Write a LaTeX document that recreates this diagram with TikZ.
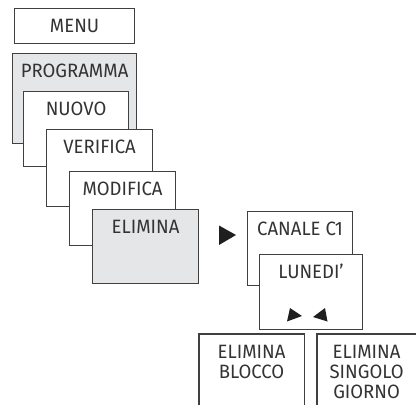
\documentclass[tikz,border=0pt]{standalone}
\usepackage{fontspec}
\setmainfont{Fira Sans}[FakeStretch=0.96]
\usetikzlibrary{positioning, calc}
\definecolor{menuline}{HTML}{404040}
\definecolor{menugray}{HTML}{E5E6E7}
\definecolor{menutext}{HTML}{333333}

\begin{document}
\begin{tikzpicture}[
  x=1pt, y=-1pt,
  font=\fontsize{19.3}{20}\selectfont,
  card/.style={rectangle, draw=menuline, line width=1.2pt, fill=white,
               text=menutext, anchor=north west, align=center,
               inner xsep=0pt, inner ysep=0pt, text height=23.5pt},
  sel/.style={card, fill=menugray},
  open/.style={card, draw=none, fill=none},
  rim/.style={draw=menuline, line width=1.2pt},
  tri/.style={fill=black!88},
]
\useasboundingbox (0,0) rectangle (416,405);
% main menu stack
\node (menu)      [card, minimum width=120pt, text depth=11.5pt] at (14,8) {MENU};
\node (programma) [sel,  minimum width=124pt, text depth=66.5pt] at (12,53) {PROGRAMMA};
\node (nuovo)     [card, minimum width=105pt, text depth=51.5pt] at (23,91) {NUOVO};
\node (verifica)  [card, minimum width=106pt, text depth=53.5pt] at (46,129) {VERIFICA};
\node (modifica)  [card, minimum width=106pt, text depth=50.5pt] at (69,171) {MODIFICA};
\node (elimina)   [sel,  minimum width=106pt, text depth=50.5pt] at (92,209) {ELIMINA};
% step to the channel / day
\fill [tri] (219,225.5) -- (236,235) -- (219,245) -- cycle;
\node (canale)    [card, minimum width=105pt, text depth=50.5pt] at (247,211) {CANALE C1};
\node (lunedi)    [card, minimum width=103pt, text depth=51.5pt] at (259,254) {LUNEDI'};
\fill [tri] (290,308) -- (302,316) -- (287,321.5) -- cycle;
\fill [tri] (325,308) -- (327.5,321.5) -- (313,317) -- cycle;
% the two choices, cut off at the bottom
\node (blocco)    [open, minimum width=104pt, text height=43.5pt, text depth=26.5pt] at (199,334) {ELIMINA\\BLOCCO};
\node (giorno)    [open, minimum width=98pt, text height=63.5pt, text depth=6.5pt] at (317,334) {ELIMINA\\SINGOLO\\GIORNO};
\draw [rim] (blocco.south west) -- (blocco.north west) -- (blocco.north east) -- (blocco.south east);
\draw [rim] (giorno.south west) -- (giorno.north west) -- (giorno.north east) -- (giorno.south east);
\end{tikzpicture}
\end{document}
